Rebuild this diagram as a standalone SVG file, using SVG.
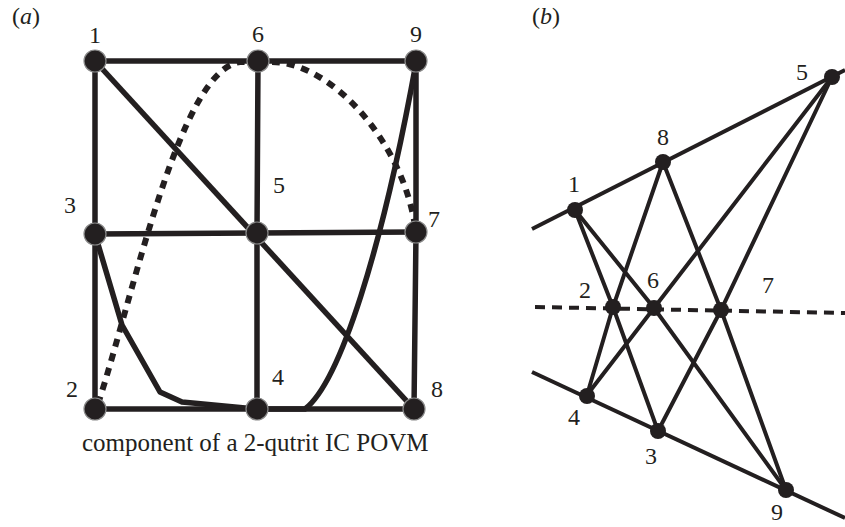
<svg xmlns="http://www.w3.org/2000/svg" width="845" height="527" viewBox="0 0 845 527">
<style>
.ln{fill:none;stroke:#231f20;stroke-width:5.5;stroke-linejoin:round;stroke-linecap:butt}
.ln2{fill:none;stroke:#231f20;stroke-width:4;stroke-linecap:butt}
.da{fill:none;stroke:#231f20;stroke-width:6;stroke-dasharray:8 7}
.db{fill:none;stroke:#231f20;stroke-width:4;stroke-dasharray:10 7}
.na{fill:#231f20;stroke:#8a8a8a;stroke-width:1.2}
.nb{fill:#231f20}
.t{font-family:"Liberation Serif","Times New Roman",serif;font-size:24px;fill:#231f20;text-anchor:middle}
.cap{font-family:"Liberation Serif","Times New Roman",serif;font-size:25px;fill:#231f20}
</style>
<rect width="845" height="527" fill="#fff"/>
<g id="connectors">
  <!-- panel a -->
  <polyline class="ln" points="95,61 258,61 416,61"/>
  <polyline class="ln" points="95,234 257,233 416,232"/>
  <polyline class="ln" points="95,409 257,409 414,409"/>
  <polyline class="ln" points="95,61 95,234 95,409"/>
  <polyline class="ln" points="258,61 257,233 257,409"/>
  <polyline class="ln" points="416,61 416,232 414,409"/>
  <line class="ln" x1="95" y1="61" x2="414" y2="409"/>
  <polyline class="ln" points="95,234 122,325 160,392 182,402 257,409"/>
  <path class="ln" d="M257,409 L305,409 C340,382 382,250 416,63"/>
  <path class="da" d="M98,404 C135,290 180,70 240,62 L258,62"/>
  <path class="da" d="M272,62 C330,62 402,140 415,226"/>
  <!-- panel b -->
  <line class="ln2" x1="532" y1="229" x2="845" y2="70"/>
  <line class="ln2" x1="532" y1="372" x2="845" y2="518"/>
  <line class="db" x1="535" y1="307" x2="845" y2="313"/>
  <polyline class="ln2" points="663,162 613,307 587,395"/>
  <polyline class="ln2" points="663,162 721,310 786,490"/>
  <polyline class="ln2" points="575,210 613,307 658,431"/>
  <polyline class="ln2" points="575,210 654,308 786,490"/>
  <polyline class="ln2" points="832,77 654,308 587,395"/>
  <polyline class="ln2" points="832,77 721,310 658,431"/>
</g>
<g id="a-node-1"><circle class="na" cx="95" cy="61" r="11"/><text class="t" x="95" y="43">1</text></g>
<g id="a-node-6"><circle class="na" cx="258" cy="61" r="11"/><text class="t" x="258" y="42">6</text></g>
<g id="a-node-9"><circle class="na" cx="416" cy="61" r="11"/><text class="t" x="416" y="42">9</text></g>
<g id="a-node-3"><circle class="na" cx="95" cy="234" r="11"/><text class="t" x="70" y="213">3</text></g>
<g id="a-node-5"><circle class="na" cx="257" cy="233" r="11"/><text class="t" x="279" y="193">5</text></g>
<g id="a-node-7"><circle class="na" cx="416" cy="232" r="11"/><text class="t" x="434" y="227">7</text></g>
<g id="a-node-2"><circle class="na" cx="95" cy="409" r="11"/><text class="t" x="72" y="397">2</text></g>
<g id="a-node-4"><circle class="na" cx="257" cy="409" r="11"/><text class="t" x="278" y="385">4</text></g>
<g id="a-node-8"><circle class="na" cx="414" cy="409" r="11"/><text class="t" x="437" y="397">8</text></g>
<g id="b-node-1"><circle class="nb" cx="575" cy="210" r="8"/><text class="t" x="574" y="192">1</text></g>
<g id="b-node-8"><circle class="nb" cx="663" cy="162" r="8"/><text class="t" x="663" y="145">8</text></g>
<g id="b-node-5"><circle class="nb" cx="832" cy="77" r="8"/><text class="t" x="802" y="80">5</text></g>
<g id="b-node-2"><circle class="nb" cx="613" cy="307" r="8"/><text class="t" x="585" y="298">2</text></g>
<g id="b-node-6"><circle class="nb" cx="654" cy="308" r="8"/><text class="t" x="653" y="288">6</text></g>
<g id="b-node-7"><circle class="nb" cx="721" cy="310" r="8"/><text class="t" x="768" y="293">7</text></g>
<g id="b-node-4"><circle class="nb" cx="587" cy="396" r="8"/><text class="t" x="574" y="425">4</text></g>
<g id="b-node-3"><circle class="nb" cx="658" cy="431" r="8"/><text class="t" x="651" y="464">3</text></g>
<g id="b-node-9"><circle class="nb" cx="786" cy="490" r="8"/><text class="t" x="777" y="520">9</text></g>
<text class="t" x="26" y="24">(<tspan font-style="italic">a</tspan>)</text>
<text class="t" x="546" y="24">(<tspan font-style="italic">b</tspan>)</text>
<text class="cap" x="82" y="451">component of a 2-qutrit IC POVM</text>
</svg>
